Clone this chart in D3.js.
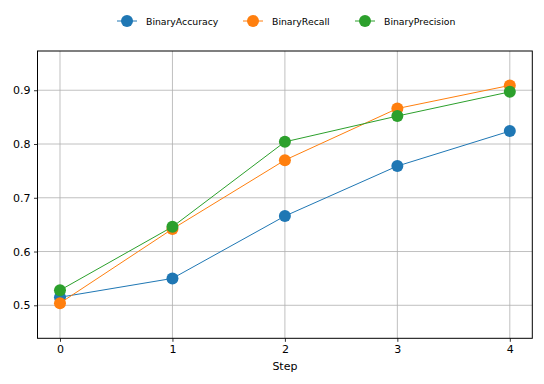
<!DOCTYPE html>
<html><head><meta charset="utf-8">
<script src="https://cdn.jsdelivr.net/npm/d3@7"></script>
<style>body{margin:0;background:#fff}svg{display:block}text{font-family:"DejaVu Sans",sans-serif}</style>
</head><body>
<svg id="c" width="544" height="384"></svg>
<script>
const steps = [0, 1, 2, 3, 4];
const seriesNames = ["BinaryAccuracy", "BinaryRecall", "BinaryPrecision"];
const binaryAccuracy = [0.515, 0.550, 0.666, 0.759, 0.824];
const binaryRecall = [0.504, 0.642, 0.770, 0.866, 0.909];
const binaryPrecision = [0.528, 0.646, 0.804, 0.852, 0.897];
const yTicks = [0.5, 0.6, 0.7, 0.8, 0.9];
const colors = ["#1f77b4", "#ff7f0e", "#2ca02c"];
const allSeries = [binaryAccuracy, binaryRecall, binaryPrecision];

const L = 37.5, R = 532.3, T = 51, B = 338.3;
const svg = d3.select("#c");
const x = d3.scaleLinear().domain([-0.2, 4.2]).range([L, R]);
const y = d3.scaleLinear().domain([0.4386, 0.973]).range([B, T]);

// grid
const g = svg.append("g");
g.selectAll(".gx").data(steps).join("line")
  .attr("x1", d => x(d)).attr("x2", d => x(d)).attr("y1", T).attr("y2", B)
  .attr("stroke", "#b0b0b0").attr("stroke-width", 0.8);
g.selectAll(".gy").data(yTicks).join("line")
  .attr("y1", d => y(d)).attr("y2", d => y(d)).attr("x1", L).attr("x2", R)
  .attr("stroke", "#b0b0b0").attr("stroke-width", 0.8);

// axes
const xAxis = d3.axisBottom(x).tickValues(steps).tickFormat(d3.format("d")).tickSize(3.5).tickPadding(3.5);
const yAxis = d3.axisLeft(y).tickValues(yTicks).tickFormat(d3.format(".1f")).tickSize(3.5).tickPadding(3.5);
const ax = svg.append("g").attr("transform", `translate(0,${B})`).call(xAxis);
const ay = svg.append("g").attr("transform", `translate(${L},0)`).call(yAxis);
[ax, ay].forEach(a => {
  a.select(".domain").remove();
  a.selectAll("line").attr("stroke", "#000").attr("stroke-width", 0.8);
  a.selectAll("text").style("font-size", "11px").style("font-family", "DejaVu Sans").attr("fill", "#000");
});

// lines & markers
const line = d3.line().x((d, i) => x(steps[i])).y(d => y(d));
allSeries.forEach((s, k) => {
  svg.append("path").datum(s).attr("d", line).attr("fill", "none")
    .attr("stroke", colors[k]).attr("stroke-width", 1);
  svg.append("g").selectAll("circle").data(s).join("circle")
    .attr("cx", (d, i) => x(steps[i])).attr("cy", d => y(d)).attr("r", 6)
    .attr("fill", colors[k]);
});

// frame
svg.append("rect").attr("x", L).attr("y", T).attr("width", R - L).attr("height", B - T)
  .attr("fill", "none").attr("stroke", "#000").attr("stroke-width", 1);

// x label
svg.append("text").attr("x", (L + R) / 2).attr("y", 370).attr("text-anchor", "middle")
  .style("font-size", "11px").attr("fill", "#000").text("Step");

// legend
const legX = [127, 253, 365];
const lg = svg.append("g");
seriesNames.forEach((n, k) => {
  const cx = legX[k];
  lg.append("line").attr("x1", cx - 10).attr("x2", cx + 10).attr("y1", 21).attr("y2", 21)
    .attr("stroke", colors[k]).attr("stroke-width", 1);
  lg.append("circle").attr("cx", cx).attr("cy", 21).attr("r", 6).attr("fill", colors[k]);
  lg.append("text").attr("x", cx + 19).attr("y", 24.5).style("font-size", "9.3px")
    .attr("fill", "#000").text(n);
});
</script>
</body></html>
